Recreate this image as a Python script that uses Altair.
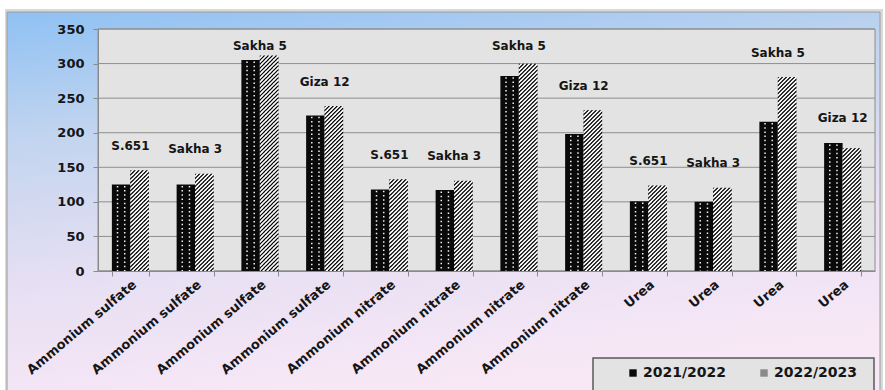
import math
import altair as alt
import pandas as pd

# ---- data -------------------------------------------------------------
fertilizers = ["Ammonium sulfate"] * 4 + ["Ammonium nitrate"] * 4 + ["Urea"] * 4
varieties = ["S.651", "Sakha 3", "Sakha 5", "Giza 12"] * 3
season_2021 = [125, 125, 305, 225, 118, 117, 282, 198, 101, 100, 216, 185]
season_2022 = [145, 140, 311, 238, 132, 130, 299, 232, 123, 120, 280, 177]
seasons = ["2021/2022", "2022/2023"]
y_ticks = [0, 50, 100, 150, 200, 250, 300, 350]

# ---- layout -----------------------------------------------------------
W, H = 777, 242          # plot area
Y_MAX = 350
PX = H / Y_MAX           # pixels per data unit
STEP = W / len(fertilizers)
PAIR_W = 37.0
BAR_W = PAIR_W / 2
PAD_IN = 1 - PAIR_W / STEP
FONT = "DejaVu Sans"

keys = [f"{f}|{v}" for f, v in zip(fertilizers, varieties)]
rows = []
for k, f, v, a, b in zip(keys, fertilizers, varieties, season_2021, season_2022):
    rows.append({"key": k, "fertilizer": f, "variety": v, "season": seasons[0], "value": a})
    rows.append({"key": k, "fertilizer": f, "variety": v, "season": seasons[1], "value": b})
bars_df = pd.DataFrame(rows)
labels_df = pd.DataFrame({"key": keys, "variety": varieties,
                          "top": [max(a, b) for a, b in zip(season_2021, season_2022)]})
ticks_df = pd.DataFrame({"tick": y_ticks})


# ---- fill textures as tiled symbol paths -------------------------------
def clip_poly(pts, xmin, ymin, xmax, ymax):
    def clip(pts, inside, inter):
        out = []
        for i in range(len(pts)):
            cur, prev = pts[i], pts[i - 1]
            if inside(cur):
                if not inside(prev):
                    out.append(inter(prev, cur))
                out.append(cur)
            elif inside(prev):
                out.append(inter(prev, cur))
        return out

    def ix(x0):
        return lambda p, q: (x0, p[1] + (q[1] - p[1]) * (x0 - p[0]) / (q[0] - p[0]))

    def iy(y0):
        return lambda p, q: (p[0] + (q[0] - p[0]) * (y0 - p[1]) / (q[1] - p[1]), y0)

    edges = [(lambda p: p[0] >= xmin, ix(xmin)), (lambda p: p[0] <= xmax, ix(xmax)),
             (lambda p: p[1] >= ymin, iy(ymin)), (lambda p: p[1] <= ymax, iy(ymax))]
    for inside, inter in edges:
        if not pts:
            break
        pts = clip(pts, inside, inter)
    return pts


def path_of(polys):
    out = []
    for poly in polys:
        if len(poly) < 3:
            continue
        out.append("M" + "L".join(f"{x:.4f},{y:.4f}" for x, y in poly) + "Z")
    return "".join(out)


UNIT = BAR_W / 2               # pixels per symbol-path unit
STRIPE = 4.0                   # stripe period, px
P = STRIPE / UNIT
EPS = 0.4 / UNIT
Y0, Y1 = -P / 2 - EPS, P / 2 + EPS


def stripe_path(phase):
    polys = []
    k0 = math.floor((-1 - Y1) / P) - 2
    k1 = math.ceil((1 - Y0) / P) + 2
    for k in range(k0, k1):
        c0 = k * P + phase
        c1 = c0 + P / 2
        poly = [(c0 - Y0, Y0), (c1 - Y0, Y0), (c1 - Y1, Y1), (c0 - Y1, Y1)]
        polys.append(clip_poly(poly, -1, Y0, 1, Y1))
    return path_of(polys)


hatch_black = stripe_path(0.0)
hatch_white = stripe_path(P / 2)

DOT_STEP = 4.2                 # dot row spacing, px
DOT_X = 3.6 / UNIT
DOT_R = 0.75 / UNIT
dots = path_of([[(cx - DOT_R, -DOT_R), (cx + DOT_R, -DOT_R), (cx + DOT_R, DOT_R), (cx - DOT_R, DOT_R)]
                for cx in (-DOT_X, DOT_X)])

# ---- shared encodings ---------------------------------------------------
x_enc = alt.X("key:N", sort=keys,
              scale=alt.Scale(paddingInner=PAD_IN, paddingOuter=PAD_IN / 2),
              axis=alt.Axis(title=None, labelExpr="split(datum.label, '|')[0]",
                            labelAngle=-40, labelAlign="right", labelBaseline="top",
                            labelFont=FONT, labelFontWeight="bold", labelFontSize=13,
                            labelColor="#151515", labelPadding=2, labelLimit=0,
                            labelOverlap=False, tickBand="extent", tickSize=5,
                            tickColor="#8a8a8a", domainColor="#8a8a8a", grid=False,
                            zindex=1))
xo_enc = alt.XOffset("season:N", sort=seasons, scale=alt.Scale(paddingInner=0, paddingOuter=0))
y_scale = alt.Scale(domain=[0, Y_MAX], nice=False, zero=True)
y_axis = alt.Axis(title=None, values=y_ticks, labelFont=FONT, labelFontWeight="bold",
                  labelFontSize=13, labelColor="#151515", labelPadding=9, tickSize=5,
                  tickColor="#8a8a8a", domainColor="#8a8a8a", grid=False, zindex=1)

# ---- decoration: chart frame, plot panel, legend box -------------------
one = alt.Data(values=[{}])
frame_shadow = alt.Chart(one).mark_rect(fill="#cfcfcf", opacity=0.8).encode(
    x=alt.value(-93), x2=alt.value(785), y=alt.value(-20), y2=alt.value(380))
frame = alt.Chart(one).mark_rect(
    fill=alt.LinearGradient(gradient="linear", x1=0, y1=0, x2=0.25, y2=1, stops=[
        alt.GradientStop(offset=0, color="#8fc1f3"),
        alt.GradientStop(offset=0.3, color="#c1d4ef"),
        alt.GradientStop(offset=0.65, color="#e6dff3"),
        alt.GradientStop(offset=1, color="#f8e8f6")]),
    stroke="#9c9c9c", strokeWidth=1).encode(
    x=alt.value(-91), x2=alt.value(782), y=alt.value(-17), y2=alt.value(378))
panel = alt.Chart(one).mark_rect(fill="#e3e3e3", stroke="#8c8c8c", strokeWidth=1).encode(
    x=alt.value(0), x2=alt.value(W), y=alt.value(0), y2=alt.value(H))
legend_box = alt.Chart(one).mark_rect(fill="#e3e3e3", stroke="#5a5a5a", strokeWidth=1.5).encode(
    x=alt.value(495), x2=alt.value(776), y=alt.value(329), y2=alt.value(372))

grid = alt.Chart(ticks_df).mark_rule(color="#8e8e8e", strokeWidth=1).encode(
    x=alt.value(0), x2=alt.value(W), y=alt.Y("tick:Q", scale=y_scale, axis=y_axis))

# ---- bars ---------------------------------------------------------------
bars = alt.Chart(bars_df).mark_bar().encode(
    x=x_enc, xOffset=xo_enc,
    y=alt.Y("value:Q", scale=y_scale, axis=y_axis),
    color=alt.Color("season:N", sort=seasons,
                    scale=alt.Scale(domain=seasons, range=["#0a0a0a", "#8a8a8a"]),
                    legend=alt.Legend(orient="none", legendX=528, legendY=337,
                                      direction="horizontal", title=None,
                                      labelFont=FONT, labelFontWeight="bold",
                                      labelFontSize=14, labelColor="#151515",
                                      symbolType="square", symbolSize=55,
                                      symbolStrokeWidth=0, labelOffset=3,
                                      columnPadding=30, padding=0)))

pu = STRIPE / PX
du = DOT_STEP / PX


def tiles(season, path, color, step):
    return alt.Chart(bars_df).transform_filter(
        alt.datum.season == season
    ).transform_calculate(
        ts=f"sequence(datum.value - {step / 2:.4f}, {-step:.4f}, {-step:.4f})"
    ).transform_flatten(["ts"]).mark_point(
        shape=path, filled=True, size=BAR_W ** 2, opacity=1, strokeWidth=0, clip=True
    ).encode(x=x_enc, xOffset=xo_enc,
             y=alt.Y("ts:Q", scale=y_scale, axis=y_axis),
             color=alt.value(color))


hatch_b = tiles(seasons[1], hatch_black, "#000000", pu)
hatch_w = tiles(seasons[1], hatch_white, "#ffffff", pu)
dotted = tiles(seasons[0], dots, "#f2f2f2", du)

# ---- variety labels above each pair ------------------------------------
labels = alt.Chart(labels_df).transform_calculate(
    ly="min(datum.top + 36, 326)"
).mark_text(font=FONT, fontWeight="bold", fontSize=12, color="#151515", baseline="middle").encode(
    x=x_enc, y=alt.Y("ly:Q", scale=y_scale, axis=y_axis), text="variety:N")

chart = alt.layer(
    frame_shadow, frame, panel, legend_box, grid, bars, hatch_b, hatch_w, dotted, labels
).properties(
    width=W, height=H, background="white",
    padding={"left": 98, "top": 29, "right": 10, "bottom": 119},
    autosize=alt.AutoSizeParams(type="none"),
).configure_view(stroke=None)

chart.save("out.html", embed_options={"renderer": "svg", "actions": False})
